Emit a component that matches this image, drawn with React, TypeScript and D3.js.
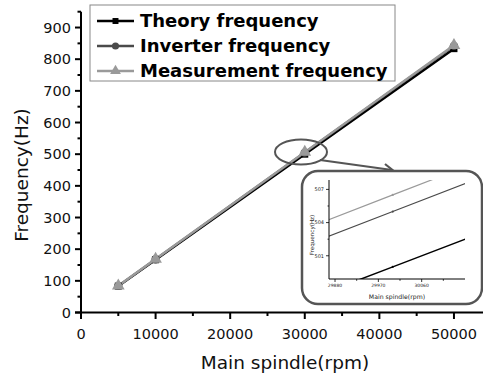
import React from "react";
import * as d3 from "d3";

const spindle = [5000, 10000, 30000, 50000];
const theory = [83.3, 166.7, 500, 833.3];
const inverter = [84, 168, 505, 842];
const measurement = [84.5, 169, 506.5, 844];
const seriesNames = ["Theory frequency", "Inverter frequency", "Measurement frequency"];
const xTicks = [0, 10000, 20000, 30000, 40000, 50000];
const xMinor = [5000, 15000, 25000, 35000, 45000];
const yTicks = [0, 100, 200, 300, 400, 500, 600, 700, 800, 900];
const yMinor = [50, 150, 250, 350, 450, 550, 650, 750, 850, 950];
const insetXTicks = [29880, 29970, 30060];
const insetXMinor = [29925, 30015, 30105];
const insetYTicks = [501, 504, 507];
const insetYMinor = [502.5, 505.5];

const FONT = "DejaVu Sans, Verdana, sans-serif";
const colors = ["#000000", "#4a4a4a", "#9a9a9a"];
const allSeries = [theory, inverter, measurement];

function Marker({ kind, x, y, color, s = 1 }: { kind: number; x: number; y: number; color: string; s?: number }) {
  if (kind === 0) return <rect x={x - 3.5 * s} y={y - 3.5 * s} width={7 * s} height={7 * s} fill={color} />;
  if (kind === 1) return <circle cx={x} cy={y} r={4.2 * s} fill={color} />;
  const p = d3.symbol().type(d3.symbolTriangle).size(70 * s * s)();
  return <path d={p || ""} transform={`translate(${x},${y})`} fill={color} />;
}

export default function App() {
  const x = d3.scaleLinear().domain([0, 54000]).range([81, 483.8]);
  const y = d3.scaleLinear().domain([0, 950]).range([312.5, 11.7]);
  const line = d3
    .line<number>()
    .x((_, i) => x(spindle[i]))
    .y((d) => y(d));

  const ix = d3.scaleLinear().domain([29867.5, 30150]).range([329, 465]);
  const iy = d3.scaleLinear().domain([498.9, 507.85]).range([279, 180]);
  const iline = d3
    .line<number>()
    .x((_, i) => ix(spindle[i]))
    .y((d) => iy(d));

  return (
    <div style={{ position: "fixed", left: 0, top: 0 }}>
      <svg width={483} height={382} style={{ display: "block", background: "#fff" }} fontFamily={FONT}>
        {/* series */}
        {allSeries.map((s, k) => (
          <path key={"l" + k} d={line(s) || ""} fill="none" stroke={colors[k]} strokeWidth={2.4} />
        ))}
        {allSeries.map((s, k) =>
          s.map((v, i) => <Marker key={`m${k}-${i}`} kind={k} x={x(spindle[i])} y={y(v)} color={colors[k]} />)
        )}

        {/* axes */}
        <line x1={x(0)} x2={x(0)} y1={y(950)} y2={y(0) + 6} stroke="#000" strokeWidth={2} />
        <line x1={x(0) - 6} x2={483} y1={y(0)} y2={y(0)} stroke="#000" strokeWidth={2} />
        {yTicks.map((t) => (
          <g key={"yt" + t}>
            <line x1={x(0) - 6} x2={x(0)} y1={y(t)} y2={y(t)} stroke="#000" strokeWidth={2} />
            <text x={x(0) - 10} y={y(t)} dy="0.36em" textAnchor="end" fontSize={14.5} fill="#111">
              {t}
            </text>
          </g>
        ))}
        {yMinor.map((t) => (
          <line key={"ym" + t} x1={x(0) - 3.5} x2={x(0)} y1={y(t)} y2={y(t)} stroke="#000" strokeWidth={2} />
        ))}
        {xTicks.map((t) => (
          <g key={"xt" + t}>
            <line x1={x(t)} x2={x(t)} y1={y(0)} y2={y(0) + 6.5} stroke="#000" strokeWidth={2} />
            <text x={x(t)} y={y(0) + 26} textAnchor="middle" fontSize={14.5} fill="#111">
              {t}
            </text>
          </g>
        ))}
        {xMinor.map((t) => (
          <line key={"xm" + t} x1={x(t)} x2={x(t)} y1={y(0)} y2={y(0) + 3.5} stroke="#000" strokeWidth={2} />
        ))}
        <text x={285} y={369} textAnchor="middle" fontSize={18.5} fill="#111">
          Main spindle(rpm)
        </text>
        <text transform="translate(28,175) rotate(-90)" textAnchor="middle" fontSize={18.5} fill="#111">
          Frequency(Hz)
        </text>

        {/* legend */}
        <rect x={90} y={5} width={305} height={76} fill="#fff" stroke="#888" strokeWidth={1} />
        {seriesNames.map((n, k) => {
          const cy = 21 + k * 25;
          return (
            <g key={"lg" + k}>
              <line x1={97} x2={134} y1={cy} y2={cy} stroke={colors[k]} strokeWidth={2.6} />
              <Marker kind={k} x={115.5} y={cy} color={colors[k]} s={0.85} />
              <text x={140} y={cy} dy="0.36em" fontSize={18} fontWeight="bold" fill="#000">
                {n}
              </text>
            </g>
          );
        })}

        {/* zoom callout */}
        <ellipse cx={301} cy={152} rx={26} ry={12.5} fill="none" stroke="#555" strokeWidth={2} />
        <line x1={320} y1={160} x2={392} y2={170} stroke="#555" strokeWidth={2.2} />
        <polyline points="385,164 392.5,170 385,176" fill="none" stroke="#555" strokeWidth={2.2} />

        {/* inset */}
        <rect x={302} y={171} width={180} height={133} rx={16} fill="#fff" stroke="#555" strokeWidth={2.5} />
        <defs>
          <clipPath id="insetClip">
            <rect x={329} y={180} width={136} height={99} />
          </clipPath>
        </defs>
        <g clipPath="url(#insetClip)">
          {allSeries.map((s, k) => (
            <path key={"il" + k} d={iline(s) || ""} fill="none" stroke={colors[k]} strokeWidth={k === 0 ? 1.5 : 1.2} />
          ))}
          {allSeries.map((s, k) => (
            <circle key={"im" + k} cx={ix(spindle[2])} cy={iy(s[2])} r={1.1} fill={colors[k]} />
          ))}
        </g>
        <line x1={329} x2={329} y1={180} y2={279} stroke="#000" strokeWidth={1} />
        <line x1={329} x2={465} y1={279} y2={279} stroke="#000" strokeWidth={1} />
        {insetYTicks.map((t) => (
          <g key={"iyt" + t}>
            <line x1={326} x2={329} y1={iy(t)} y2={iy(t)} stroke="#000" strokeWidth={0.8} />
            <text x={324} y={iy(t)} dy="0.35em" textAnchor="end" fontSize={5} fill="#222">
              {t}
            </text>
          </g>
        ))}
        {insetYMinor.map((t) => (
          <line key={"iym" + t} x1={327.5} x2={329} y1={iy(t)} y2={iy(t)} stroke="#000" strokeWidth={0.8} />
        ))}
        {insetXTicks.map((t) => (
          <g key={"ixt" + t}>
            <line x1={ix(t)} x2={ix(t)} y1={279} y2={282} stroke="#000" strokeWidth={0.8} />
            <text x={ix(t)} y={287} textAnchor="middle" fontSize={4.5} fill="#222">
              {t}
            </text>
          </g>
        ))}
        {insetXMinor.map((t) => (
          <line key={"ixm" + t} x1={ix(t)} x2={ix(t)} y1={279} y2={280.8} stroke="#000" strokeWidth={0.8} />
        ))}
        <text x={397} y={298.5} textAnchor="middle" fontSize={6.2} fill="#222">
          Main spindle(rpm)
        </text>
        <text transform="translate(314,235) rotate(-90)" textAnchor="middle" fontSize={5.6} fill="#222">
          Frequency(Hz)
        </text>
      </svg>
    </div>
  );
}
